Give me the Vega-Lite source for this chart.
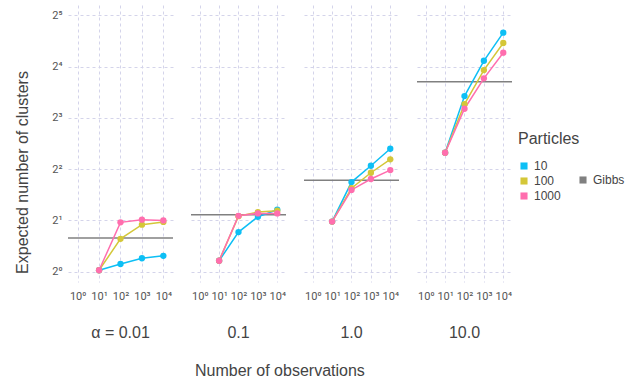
{
  "$schema": "https://vega.github.io/schema/vega-lite/v6.json",
  "padding": {"left": 14, "top": 5, "right": 5, "bottom": 5},
  "background": "white",
  "config": {
    "font": "Liberation Sans",
    "view": {"stroke": null},
    "axis": {"gridColor": "#d4d4ea", "gridDash": [3, 3], "gridWidth": 1, "ticks": false, "domain": false, "labelColor": "#555555", "labelFont": "Roboto", "labelFontSize": 11, "titleColor": "#444444", "titleFontWeight": "normal", "titleFontSize": 16},
    "title": {"fontWeight": "normal", "fontSize": 16, "color": "#444444", "anchor": "middle"},
    "legend": {"labelColor": "#444444", "titleColor": "#444444", "titleFontWeight": "normal", "titleFontSize": 16, "labelFontSize": 12, "symbolType": "square", "symbolSize": 50, "symbolStrokeWidth": 0}
  },
  "datasets": {
    "pts": [
      {"alpha": "0.01", "n": 10, "particles": "10", "value": 1.02},
      {"alpha": "0.01", "n": 100, "particles": "10", "value": 1.11},
      {"alpha": "0.01", "n": 1000, "particles": "10", "value": 1.2},
      {"alpha": "0.01", "n": 10000, "particles": "10", "value": 1.24},
      {"alpha": "0.01", "n": 10, "particles": "100", "value": 1.02},
      {"alpha": "0.01", "n": 100, "particles": "100", "value": 1.56},
      {"alpha": "0.01", "n": 1000, "particles": "100", "value": 1.89},
      {"alpha": "0.01", "n": 10000, "particles": "100", "value": 1.96},
      {"alpha": "0.01", "n": 10, "particles": "1000", "value": 1.02},
      {"alpha": "0.01", "n": 100, "particles": "1000", "value": 1.95},
      {"alpha": "0.01", "n": 1000, "particles": "1000", "value": 2.02},
      {"alpha": "0.01", "n": 10000, "particles": "1000", "value": 2.0},
      {"alpha": "0.1", "n": 10, "particles": "10", "value": 1.16},
      {"alpha": "0.1", "n": 100, "particles": "10", "value": 1.71},
      {"alpha": "0.1", "n": 1000, "particles": "10", "value": 2.1},
      {"alpha": "0.1", "n": 10000, "particles": "10", "value": 2.31},
      {"alpha": "0.1", "n": 10, "particles": "100", "value": 1.16},
      {"alpha": "0.1", "n": 100, "particles": "100", "value": 2.12},
      {"alpha": "0.1", "n": 1000, "particles": "100", "value": 2.24},
      {"alpha": "0.1", "n": 10000, "particles": "100", "value": 2.28},
      {"alpha": "0.1", "n": 10, "particles": "1000", "value": 1.16},
      {"alpha": "0.1", "n": 100, "particles": "1000", "value": 2.13},
      {"alpha": "0.1", "n": 1000, "particles": "1000", "value": 2.2},
      {"alpha": "0.1", "n": 10000, "particles": "1000", "value": 2.2},
      {"alpha": "1.0", "n": 10, "particles": "10", "value": 1.97},
      {"alpha": "1.0", "n": 100, "particles": "10", "value": 3.36},
      {"alpha": "1.0", "n": 1000, "particles": "10", "value": 4.19},
      {"alpha": "1.0", "n": 10000, "particles": "10", "value": 5.27},
      {"alpha": "1.0", "n": 10, "particles": "100", "value": 1.97},
      {"alpha": "1.0", "n": 100, "particles": "100", "value": 3.09},
      {"alpha": "1.0", "n": 1000, "particles": "100", "value": 3.81},
      {"alpha": "1.0", "n": 10000, "particles": "100", "value": 4.57},
      {"alpha": "1.0", "n": 10, "particles": "1000", "value": 1.97},
      {"alpha": "1.0", "n": 100, "particles": "1000", "value": 3.02},
      {"alpha": "1.0", "n": 1000, "particles": "1000", "value": 3.5},
      {"alpha": "1.0", "n": 10000, "particles": "1000", "value": 3.95},
      {"alpha": "10.0", "n": 10, "particles": "10", "value": 4.99},
      {"alpha": "10.0", "n": 100, "particles": "10", "value": 10.74},
      {"alpha": "10.0", "n": 1000, "particles": "10", "value": 17.3},
      {"alpha": "10.0", "n": 10000, "particles": "10", "value": 25.3},
      {"alpha": "10.0", "n": 10, "particles": "100", "value": 4.99},
      {"alpha": "10.0", "n": 100, "particles": "100", "value": 9.63},
      {"alpha": "10.0", "n": 1000, "particles": "100", "value": 15.25},
      {"alpha": "10.0", "n": 10000, "particles": "100", "value": 22.0},
      {"alpha": "10.0", "n": 10, "particles": "1000", "value": 4.99},
      {"alpha": "10.0", "n": 100, "particles": "1000", "value": 9.05},
      {"alpha": "10.0", "n": 1000, "particles": "1000", "value": 13.64},
      {"alpha": "10.0", "n": 10000, "particles": "1000", "value": 19.3}
    ],
    "gibbs": [
      {"alpha": "0.01", "method": "Gibbs", "value": 1.58},
      {"alpha": "0.1", "method": "Gibbs", "value": 2.16},
      {"alpha": "1.0", "method": "Gibbs", "value": 3.44},
      {"alpha": "10.0", "method": "Gibbs", "value": 13.03}
    ]
  },
  "title": {"text": "Number of observations", "orient": "bottom", "offset": 22, "anchor": "middle", "dx": -40},
  "spacing": 16,
  "resolve": {"scale": {"color": "shared", "fill": "shared"}, "legend": {"color": "shared", "fill": "shared"}},
  "hconcat": [
    {
      "width": 105, "height": 277,
      "title": {"text": "α = 0.01", "orient": "bottom", "offset": 24},
      "layer": [
        {
          "data": {"name": "gibbs"},
          "transform": [{"filter": "datum.alpha == '0.01'"}],
          "mark": {"type": "rule", "color": "#808080", "strokeWidth": 1.5},
          "encoding": {
            "y": {"field": "value", "type": "quantitative", "scale": {"type": "log", "base": 2, "domain": [0.8706, 36.76], "nice": false}, "axis": {"values": [1, 2, 4, 8, 16, 32], "labelExpr": "'2' + ['⁰','¹','²','³','⁴','⁵'][round(log(datum.value)/LN2)]", "title": "Expected number of clusters", "labelPadding": 6, "titlePadding": 21, "titleY": 167}},
            "fill": {"field": "method", "type": "nominal", "scale": {"range": ["#808080"]}, "legend": {"title": null, "orient": "none", "legendX": 509, "legendY": 169}}
          }
        },
        {
          "data": {"name": "pts"},
          "transform": [{"filter": "datum.alpha == '0.01'"}],
          "mark": {"type": "line", "strokeWidth": 1.5, "point": {"filled": true, "size": 40}},
          "encoding": {
            "x": {"field": "n", "type": "quantitative", "scale": {"type": "log", "domain": [0.355, 28200], "nice": false}, "axis": {"values": [1, 10, 100, 1000, 10000], "labelExpr": "'10' + ['⁰','¹','²','³','⁴'][round(log(datum.value)/LN10)]", "title": null, "labelOverlap": false, "labelFlush": false, "labelPadding": 8}},
            "y": {"field": "value", "type": "quantitative"},
            "color": {"field": "particles", "type": "nominal", "sort": ["10", "100", "1000"], "scale": {"domain": ["10", "100", "1000"], "range": ["#0DBFF5", "#D4C738", "#FF6EAE"]}, "legend": {"title": "Particles", "orient": "none", "legendX": 450, "legendY": 126, "rowPadding": 3, "titlePadding": 13}}
          }
        }
      ]
    },
    {
      "width": 95, "height": 277,
      "title": {"text": "0.1", "orient": "bottom", "offset": 24},
      "layer": [
        {
          "data": {"name": "gibbs"},
          "transform": [{"filter": "datum.alpha == '0.1'"}],
          "mark": {"type": "rule", "color": "#808080", "strokeWidth": 1.5},
          "encoding": {
            "y": {"field": "value", "type": "quantitative", "scale": {"type": "log", "base": 2, "domain": [0.8706, 36.76], "nice": false}, "axis": {"values": [1, 2, 4, 8, 16, 32], "labels": false, "title": null}},
            "fill": {"field": "method", "type": "nominal"}
          }
        },
        {
          "data": {"name": "pts"},
          "transform": [{"filter": "datum.alpha == '0.1'"}],
          "mark": {"type": "line", "strokeWidth": 1.5, "point": {"filled": true, "size": 40}},
          "encoding": {
            "x": {"field": "n", "type": "quantitative", "scale": {"type": "log", "domain": [0.355, 28200], "nice": false}, "axis": {"values": [1, 10, 100, 1000, 10000], "labelExpr": "'10' + ['⁰','¹','²','³','⁴'][round(log(datum.value)/LN10)]", "title": null, "labelOverlap": false, "labelFlush": false, "labelPadding": 8}},
            "y": {"field": "value", "type": "quantitative"},
            "color": {"field": "particles", "type": "nominal"}
          }
        }
      ]
    },
    {
      "width": 95, "height": 277,
      "title": {"text": "1.0", "orient": "bottom", "offset": 24},
      "layer": [
        {
          "data": {"name": "gibbs"},
          "transform": [{"filter": "datum.alpha == '1.0'"}],
          "mark": {"type": "rule", "color": "#808080", "strokeWidth": 1.5},
          "encoding": {
            "y": {"field": "value", "type": "quantitative", "scale": {"type": "log", "base": 2, "domain": [0.8706, 36.76], "nice": false}, "axis": {"values": [1, 2, 4, 8, 16, 32], "labels": false, "title": null}},
            "fill": {"field": "method", "type": "nominal"}
          }
        },
        {
          "data": {"name": "pts"},
          "transform": [{"filter": "datum.alpha == '1.0'"}],
          "mark": {"type": "line", "strokeWidth": 1.5, "point": {"filled": true, "size": 40}},
          "encoding": {
            "x": {"field": "n", "type": "quantitative", "scale": {"type": "log", "domain": [0.355, 28200], "nice": false}, "axis": {"values": [1, 10, 100, 1000, 10000], "labelExpr": "'10' + ['⁰','¹','²','³','⁴'][round(log(datum.value)/LN10)]", "title": null, "labelOverlap": false, "labelFlush": false, "labelPadding": 8}},
            "y": {"field": "value", "type": "quantitative"},
            "color": {"field": "particles", "type": "nominal"}
          }
        }
      ]
    },
    {
      "width": 95, "height": 277,
      "title": {"text": "10.0", "orient": "bottom", "offset": 24},
      "layer": [
        {
          "data": {"name": "gibbs"},
          "transform": [{"filter": "datum.alpha == '10.0'"}],
          "mark": {"type": "rule", "color": "#808080", "strokeWidth": 1.5},
          "encoding": {
            "y": {"field": "value", "type": "quantitative", "scale": {"type": "log", "base": 2, "domain": [0.8706, 36.76], "nice": false}, "axis": {"values": [1, 2, 4, 8, 16, 32], "labels": false, "title": null}},
            "fill": {"field": "method", "type": "nominal"}
          }
        },
        {
          "data": {"name": "pts"},
          "transform": [{"filter": "datum.alpha == '10.0'"}],
          "mark": {"type": "line", "strokeWidth": 1.5, "point": {"filled": true, "size": 40}},
          "encoding": {
            "x": {"field": "n", "type": "quantitative", "scale": {"type": "log", "domain": [0.355, 28200], "nice": false}, "axis": {"values": [1, 10, 100, 1000, 10000], "labelExpr": "'10' + ['⁰','¹','²','³','⁴'][round(log(datum.value)/LN10)]", "title": null, "labelOverlap": false, "labelFlush": false, "labelPadding": 8}},
            "y": {"field": "value", "type": "quantitative"},
            "color": {"field": "particles", "type": "nominal"}
          }
        }
      ]
    }
  ]
}
